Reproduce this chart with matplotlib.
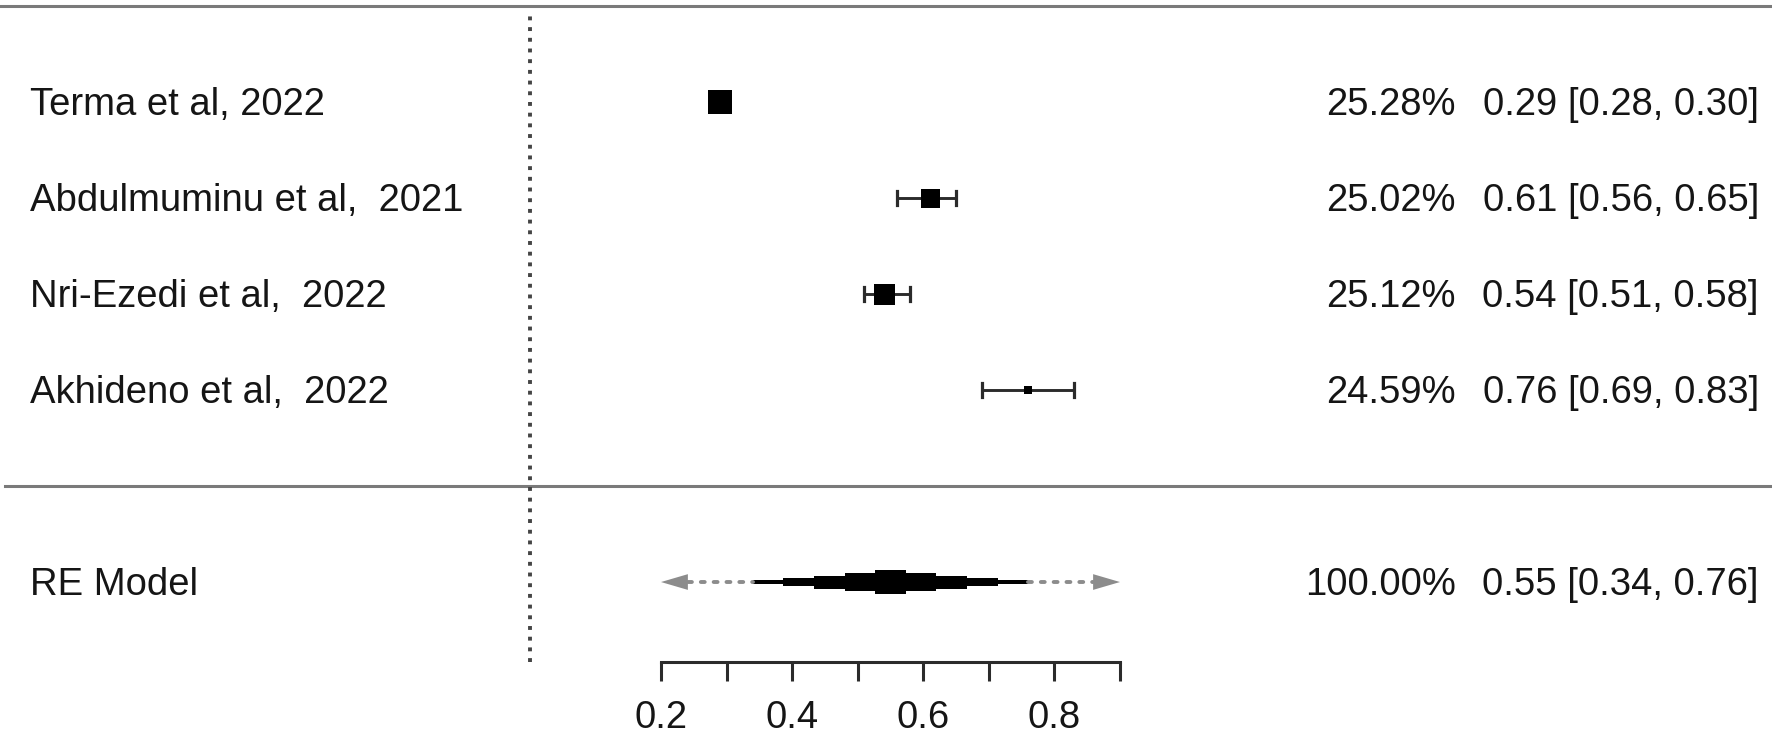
"""Forest plot of the pooled estimate from a random-effects model."""

import matplotlib
matplotlib.use("Agg")
import matplotlib.pyplot as plt
import numpy as np

STUDIES = ["Terma et al, 2022", "Abdulmuminu et al,  2021",
           "Nri-Ezedi et al,  2022", "Akhideno et al,  2022"]
ESTIMATES = [0.29, 0.61, 0.54, 0.76]
CI_LOWER = [0.28, 0.56, 0.51, 0.69]
CI_UPPER = [0.30, 0.65, 0.58, 0.83]
WEIGHTS = [25.28, 25.02, 25.12, 24.59]

POOLED_LABEL = "RE Model"
POOLED_ESTIMATE = 0.55
POOLED_LOWER = 0.34
POOLED_UPPER = 0.76
POOLED_WEIGHT = 100.00
# prediction interval, runs past both ends of the axis
PRED_LOWER = -0.35
PRED_UPPER = 1.45

AXIS_MAJOR = [0.2, 0.4, 0.6, 0.8]
AXIS_MINOR = [0.3, 0.5, 0.7, 0.9]
AXIS_LIMITS = (0.2, 0.9)
REF_LINE = 0.0

# style
SQUARE_PX = [24, 19, 21, 8]
FONT = 27.5
TEXT_COLOR = "#151515"
LINE_COLOR = "#2b2b2b"
RULE_COLOR = "#7a7a7a"
PRED_COLOR = "#8c8c8c"
PT = 72 / 100  # points per pixel at dpi 100


def diamond_steps(row, lo, est, hi, half, n=9):
    """Stepped diamond like the low-res original: sample the outline at n bins."""
    edges = np.linspace(lo, hi, n + 1)
    mids = (edges[:-1] + edges[1:]) / 2
    reach = np.where(mids < est, est - lo, hi - est)
    h = np.maximum(half * (1 - np.abs(mids - est) / reach), 0.016)
    return edges, row + h, row - h


def main() -> int:
    plt.rcParams["font.family"] = ["Liberation Sans", "DejaVu Sans"]
    fig = plt.figure(figsize=(17.72, 7.37), dpi=100)
    ax = fig.add_axes([0, 75 / 737, 1, 662 / 737])

    k = len(STUDIES)
    rows = np.arange(k, 0, -1)
    pooled_row = -1
    ax.set_xlim(0.2 - 661 / 655.7, 0.2 + 1111 / 655.7)
    ax.set_ylim(-1.833, 5.0625)

    for side in ("top", "left", "right"):
        ax.spines[side].set_visible(False)
    ax.spines["bottom"].set_bounds(*AXIS_LIMITS)
    ax.spines["bottom"].set_color(LINE_COLOR)
    ax.spines["bottom"].set_linewidth(2.2)
    ax.set_yticks([])
    ax.set_xticks(AXIS_MAJOR)
    ax.set_xticklabels([f"{v:.1f}" for v in AXIS_MAJOR])
    ax.set_xticks(AXIS_MINOR, minor=True)
    ax.tick_params(axis="x", which="both", direction="out", length=19 * PT,
                   width=2.2, color=LINE_COLOR, labelsize=FONT,
                   labelcolor=TEXT_COLOR, pad=14)

    # rules and reference line
    ax.axhline(k + 1, color=RULE_COLOR, lw=2.2)
    ax.axhline(0, xmin=5 / 1772, color=RULE_COLOR, lw=2.2)
    ax.vlines(REF_LINE, -1.833, k + 0.92, color="#444444", lw=2.8,
              linestyles=(0, (1, 1.75)))

    # studies
    for row, est, lo, hi, size in zip(rows, ESTIMATES, CI_LOWER, CI_UPPER, SQUARE_PX):
        ax.plot([lo, hi], [row, row], color=LINE_COLOR, lw=2.1, solid_capstyle="butt")
        for end in (lo, hi):
            ax.plot([end, end], [row - 0.075, row + 0.075], color=LINE_COLOR, lw=2.3)
        ax.plot(est, row, marker="s", ms=size * PT, color="black", mew=0)

    # prediction interval with arrows where it is cut off by the axis
    arrow_len, arrow_half = 0.041, 0.082
    lo_tip = max(PRED_LOWER, AXIS_LIMITS[0])
    hi_tip = min(PRED_UPPER, AXIS_LIMITS[1])
    for a, b in ((lo_tip + arrow_len, POOLED_LOWER), (POOLED_UPPER, hi_tip - arrow_len)):
        ax.plot([a, b], [pooled_row] * 2, color=PRED_COLOR, lw=2.8,
                linestyle=(0, (1, 2.3)), dash_capstyle="round")
    for tip, sign in ((lo_tip, 1), (hi_tip, -1)):
        base = tip + sign * arrow_len
        ax.fill([tip, base, base],
                [pooled_row, pooled_row + arrow_half, pooled_row - arrow_half],
                color=PRED_COLOR, lw=0)

    # pooled diamond
    edges, top, bottom = diamond_steps(pooled_row, POOLED_LOWER, POOLED_ESTIMATE,
                                       POOLED_UPPER, 0.122)
    ax.stairs(top, edges, baseline=bottom, fill=True, color="black")

    # text columns
    trans = ax.get_yaxis_transform()
    base = 0.135
    labels = STUDIES + [POOLED_LABEL]
    weights = WEIGHTS + [POOLED_WEIGHT]
    est = ESTIMATES + [POOLED_ESTIMATE]
    lows = CI_LOWER + [POOLED_LOWER]
    highs = CI_UPPER + [POOLED_UPPER]
    for row, lab, w, e, lo, hi in zip(list(rows) + [pooled_row], labels, weights, est, lows, highs):
        kw = dict(transform=trans, va="baseline", fontsize=FONT, color=TEXT_COLOR)
        ax.text(30 / 1772, row - base, lab, ha="left", **kw)
        ax.text(1456 / 1772, row - base, f"{w:.2f}%", ha="right", **kw)
        ax.text(1759 / 1772, row - base, f"{e:.2f} [{lo:.2f}, {hi:.2f}]", ha="right", **kw)

    fig.savefig("out.png", dpi=100)
    plt.close(fig)
    return 0


if __name__ == "__main__":
    raise SystemExit(main())
